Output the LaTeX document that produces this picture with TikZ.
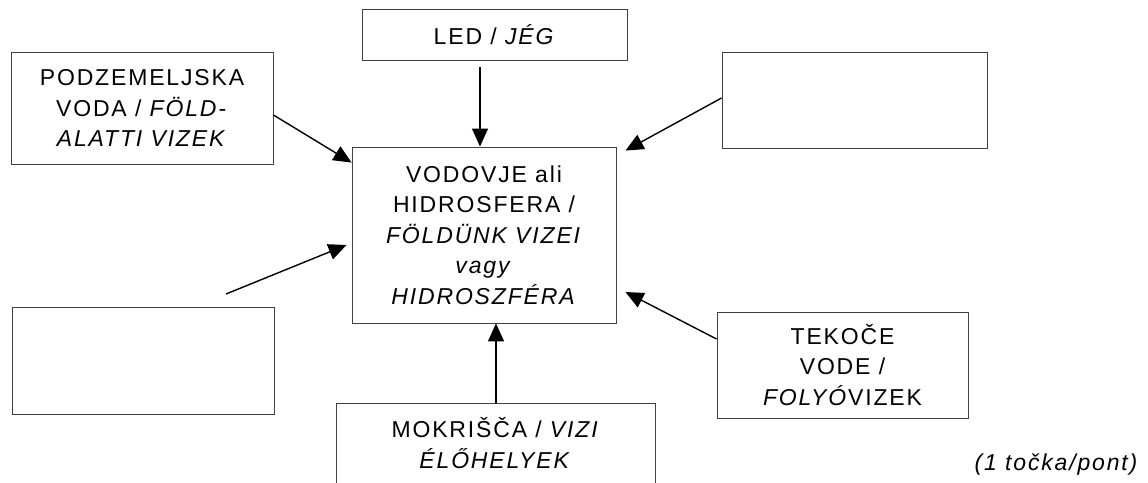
\documentclass[tikz,border=0pt]{standalone}
\usepackage{fontspec}
\setmainfont{Liberation Sans}[LetterSpace=8]
\usetikzlibrary{arrows.meta}
\definecolor{ink}{HTML}{000000}
\definecolor{frame}{HTML}{404040}

\begin{document}
\begin{tikzpicture}[x=1pt,y=-1pt,
  every node/.style={font=\fontsize{23}{30.5}\selectfont},
  box/.style={draw=frame, line width=0.9pt, align=center, inner sep=0pt},
  label/.style={align=center, inner sep=0pt},
  feed/.style={-{Triangle[length=18pt,width=16pt]}, line width=1.4pt, color=ink}]
\useasboundingbox (0,0) rectangle (1148,482);

% boxes round the centre
\node[box, minimum width=265, minimum height=51] (led) at (494.5,34.5) {LED / \textit{JÉG}};
\node[box, minimum width=262, minimum height=112] (podz) at (142,108)
  {PODZEMELJSKA\\VODA / \textit{FÖLD-}\\\textit{ALATTI VIZEK}};
\node[box, minimum width=265, minimum height=96] (blankr) at (854.5,100) {};
\node[box, minimum width=264, minimum height=176] (centre) at (484,235)
  {VODOVJE ali\\HIDROSFERA /\\\textit{FÖLDÜNK VIZEI}\\\textit{vagy}\\\textit{HIDROSZFÉRA}};
\node[box, minimum width=262, minimum height=107] (blankl) at (143,360.5) {};
\node[box, minimum width=251, minimum height=106] (tekoce) at (842.5,365)
  {TEKOČE\\VODE /\\\textit{FOLYÓ}VIZEK};

% open box at the bottom edge
\draw[draw=frame, line width=0.9pt] (336,484) |- (655,403) -- (655,484);
\node[label] (mokr) at (495.5,443) {MOKRIŠČA / \textit{VIZI}\\\textit{ÉLŐHELYEK}};

\node[label, font=\fontsize{23}{30.5}\selectfont\itshape] (score) at (1056,465) {(1 točka/pont)};

% arrows into the centre
\coordinate (ledtail) at (480,67);
\coordinate (blanktail) at (226,294);
\coordinate (mokrtop) at (496,403);
\draw[feed] (ledtail) -- (ledtail |- centre.north);
\draw[feed] ([yshift=-7pt]podz.east) -- ([yshift=-16pt]centre.north west);
\draw[feed] ([yshift=2pt]blankr.west) -- ([xshift=9pt,yshift=-4pt]centre.north east);
\draw[feed] (blanktail) -- ([xshift=-5pt,yshift=-10pt]centre.west);
\draw[feed] ([yshift=26pt]tekoce.west) -- ([xshift=9pt,yshift=-57pt]centre.east);
\draw[feed] (mokrtop) -- (mokrtop |- centre.south);
\end{tikzpicture}
\end{document}
